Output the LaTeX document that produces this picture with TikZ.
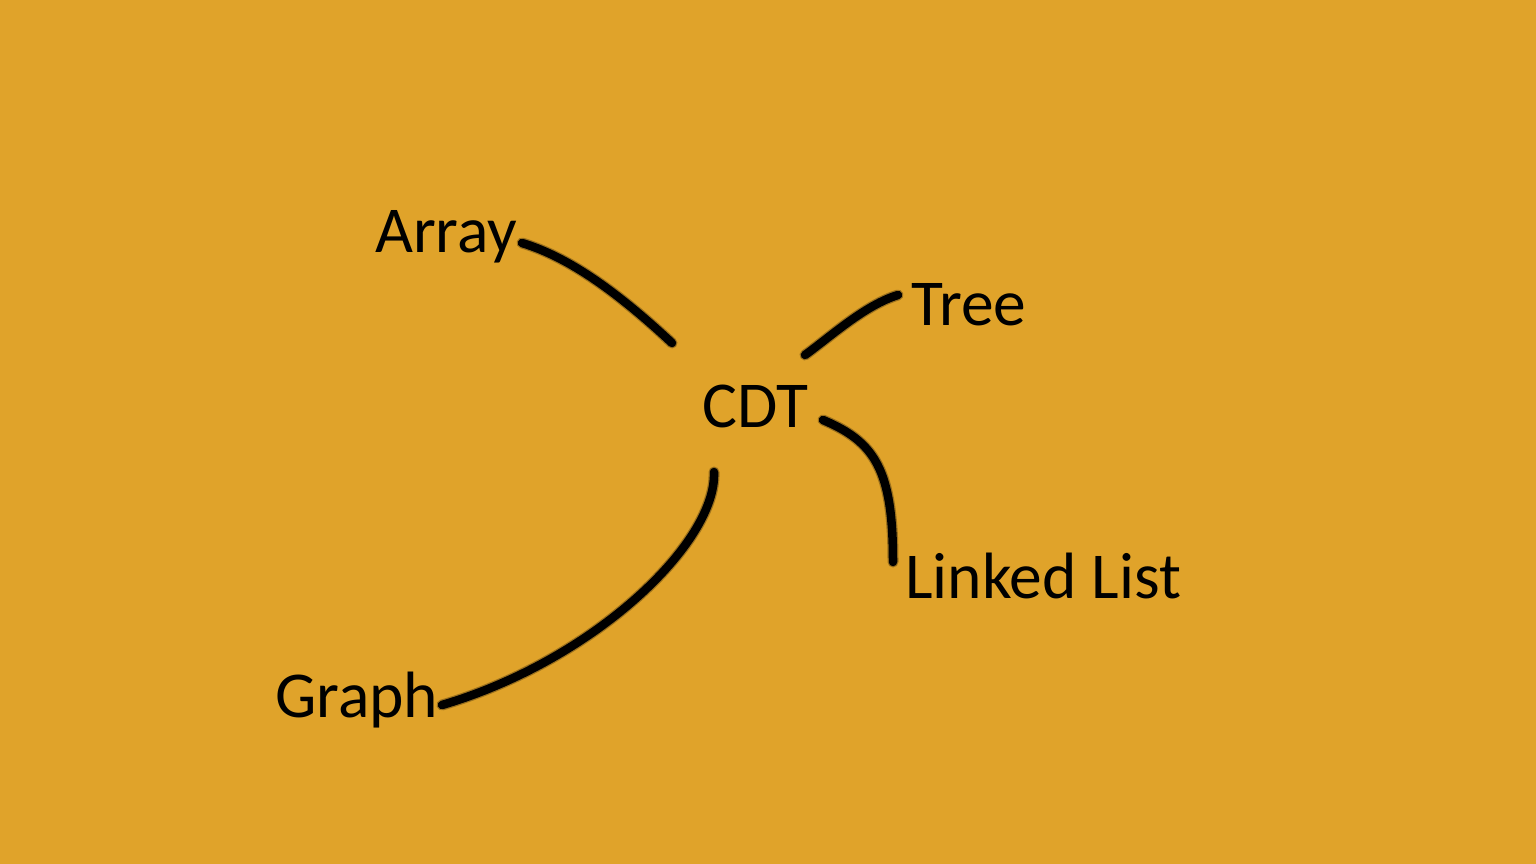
\documentclass[tikz,border=0pt]{standalone}
\usepackage{fontspec}
\setmainfont{Carlito}
\definecolor{bgorange}{RGB}{224,163,42}
\begin{document}
\begin{tikzpicture}[x=1pt,y=-1pt,
  lbl/.style={anchor=base west,inner sep=0pt,font=\fontsize{65.5}{70}\selectfont,text=black},
  stroke/.style={line width=8.5pt,line cap=round,line join=round,black},
  halo/.style={line width=11pt,line cap=round,line join=round,black,opacity=0.3}]
\fill[bgorange] (0,0) rectangle (1536,864);
\useasboundingbox (0,0) rectangle (1536,864);
\node[lbl] (array) at (375,252) {Array};
\node[lbl] (tree) at (911,325) {Tree};
\node[lbl] (cdt) at (702,427) {CDT};
\node[lbl] (linked) at (905,598) {Linked List};
\node[lbl] (graph) at (275,717) {Graph};
% connector end points
\coordinate (a1) at (522,243); \coordinate (a2) at (672,343);
\coordinate (t1) at (805,355); \coordinate (t2) at (898,295);
\coordinate (l1) at (823,420); \coordinate (l2) at (893,562);
\coordinate (g1) at (714,472); \coordinate (g2) at (442,705);
\foreach \s in {halo,stroke}{
  \draw[\s] (a1) .. controls (565,256) and (612,287) .. (a2);
  \draw[\s] (t1) .. controls (830,337) and (865,305) .. (t2);
  \draw[\s] (l1) .. controls (875,442) and (893,470) .. (l2);
  \draw[\s] (g1) .. controls (717,542) and (595,660) .. (g2);
}
\end{tikzpicture}
\end{document}
